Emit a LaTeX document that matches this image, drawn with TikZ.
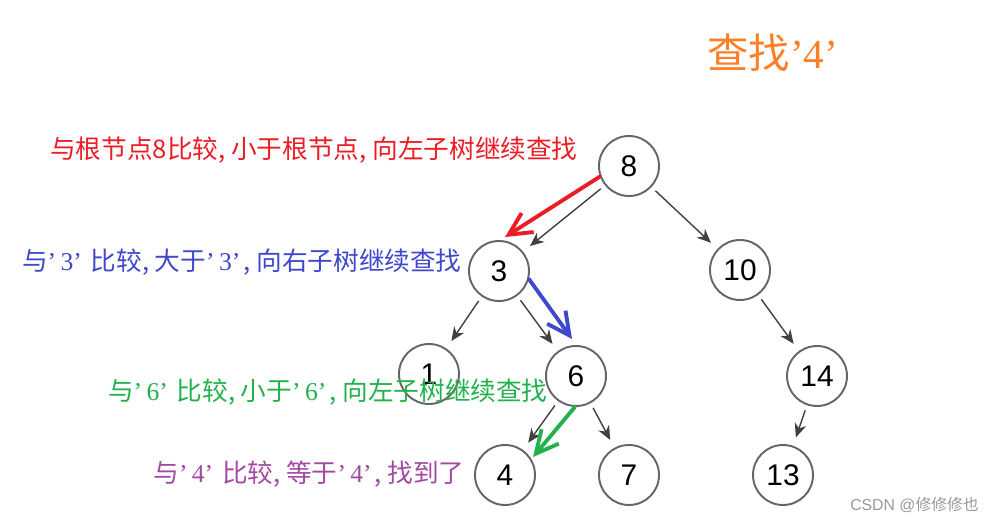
\documentclass[tikz,border=0pt]{standalone}
\usepackage{fontspec}
\setmainfont{Liberation Sans}
\newfontfamily\cjk{Noto Sans CJK SC}
\newfontfamily\latin{Liberation Serif}
\usetikzlibrary{arrows.meta}
\definecolor{notered}{RGB}{235,28,36}
\definecolor{noteblue}{RGB}{63,72,204}
\definecolor{notegreen}{RGB}{34,177,76}
\definecolor{notepurple}{RGB}{163,73,164}
\definecolor{titleorange}{RGB}{255,127,39}
\newcommand{\qv}[1]{{\latin ’\,#1’\kern0.12em}}

\begin{document}
\begin{tikzpicture}[
        keynode/.style={circle, draw=black!60, line width=1.1pt, minimum size=1.2cm, inner sep=0pt, font=\fontsize{17}{20}\selectfont},
        line/.style={draw=black!75, line width=0.8pt},
        edge/.style={line, -{Stealth[length=2.8mm, width=2.4mm]}, shorten <=3pt, shorten >=5pt},
        hint/.style={line width=2.2pt, line cap=round, line join=round, -{Straight Barb[length=4.5mm, width=4.5mm]}},
        note/.style={anchor=east, inner sep=0pt, font=\cjk\fontsize{14.6}{17}\selectfont}
    ]
        \useasboundingbox (0,0) rectangle (19.74,-10.46);
        % -- title --
        \node[font=\cjk\fontsize{23.5}{27}\selectfont, text=titleorange] (title) at (15.46,-1.06) {查找{\latin ’4’}};

        % -- tree nodes --
        \node[keynode] (n8)  at (12.58, -3.32) {8};
        \node[keynode] (n3)  at (9.98, -5.42)  {3};
        \node[keynode] (n10) at (14.80, -5.40) {10};
        \node[keynode] (n1)  at (8.58, -7.48)  {1};
        \node[keynode] (n6)  at (11.52, -7.52) {6};
        \node[keynode] (n14) at (16.34, -7.52) {14};
        \node[keynode] (n4)  at (10.10, -9.50) {4};
        \node[keynode] (n7)  at (12.58, -9.50) {7};
        \node[keynode] (n13) at (15.66, -9.50) {13};

        % tree edges
        \draw[edge] (n8) -- (n3);
        \draw[edge] (n8) -- (n10);
        \draw[edge] (n3) -- (n1);
        \draw[edge] (n3) -- (n6);
        \draw[edge] (n6) -- (n4);
        \draw[edge] (n6) -- (n7);
        \draw[edge] (n10) -- (n14);
        \draw[edge] (n14) -- (n13);

        % -- search notes --
        \node[note, text=notered]    (s8) at (11.56, -3.00) {与根节点8比较, 小于根节点, 向左子树继续查找};
        \node[note, text=noteblue]   (s3) at (9.24, -5.24)  {与\qv{3} 比较, 大于\qv{3}, 向右子树继续查找};
        \node[note, text=notegreen]  (s6) at (10.96, -7.84) {与\qv{6} 比较, 小于\qv{6}, 向左子树继续查找};
        \node[note, text=notepurple] (s4) at (9.30, -9.48)  {与\qv{4} 比较, 等于\qv{4}, 找到了};

        % search path (hand-drawn arrows)
        \coordinate (hit3) at (10.10, -4.74);
        \coordinate (hit6) at (11.44, -6.78);
        \coordinate (hit4) at (10.66, -9.14);
        \draw[hint, notered]   (n8.200) -- (hit3);
        \draw[hint, noteblue]  (n3.-15) -- (hit6);
        \draw[hint, notegreen] (n6.-92) -- (hit4);

        % watermark
        \node[anchor=east, text=black!40, font=\fontsize{9}{11}\selectfont] (mark) at (19.70, -10.10) {CSDN @{\cjk 修修修也}};
    \end{tikzpicture}
\end{document}
